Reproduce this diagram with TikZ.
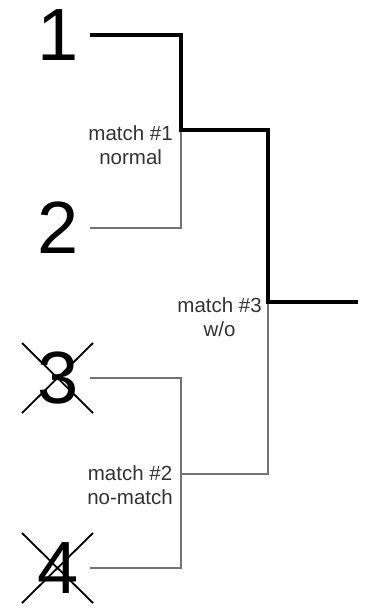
\documentclass[tikz,border=0pt]{standalone}
\usepackage{fontspec}
\setmainfont{Liberation Sans}
\usetikzlibrary{calc}

\begin{document}
\begin{tikzpicture}[
  x=1pt, y=1pt,
  seed/.style={inner sep=0pt, minimum width=64pt, font=\fontsize{74}{74}\selectfont},
  result/.style={anchor=north east, inner sep=0pt, align=center, text=black!80,
    font=\fontsize{20.5}{24}\selectfont},
  win/.style={line width=4.2pt, black},
  lose/.style={line width=1.3pt, black!55},
  strike/.style={line width=1.8pt, black},
]
\useasboundingbox (0,0) rectangle (367,-611);

\node[seed] (n1) at (58,-35) {1};
\node[seed] (n2) at (58,-228) {2};
\node[seed] (n3) at (58,-378) {3};
\node[seed] (n4) at (58,-568) {4};

\coordinate (m1) at (181,-130);
\coordinate (m2) at (181,-474);
\coordinate (m3) at (268,-302);
\coordinate (champ) at (358,-302);

\draw[lose] (n2.east) -| (m1);
\draw[lose] (n3.east) -| (m2);
\draw[lose] (n4.east) -| (m2);
\draw[lose] (m2) -| (m3);
\draw[win] (n1.east) -| (m1) -| (m3) -- (champ);

\foreach \n in {n3,n4} {
  \draw[strike] ($(\n)+(-36,35)$) -- ($(\n)+(35,-35)$);
  \draw[strike] ($(\n)+(35,35)$) -- ($(\n)+(-36,-35)$);
}

\node[result] (r1) at ([xshift=-8pt, yshift=5pt]m1) {match \#1\\normal};
\node[result] (r3) at ([xshift=-6pt, yshift=5pt]m3) {match \#3\\w/o};
\node[result] (r2) at ([xshift=-8pt, yshift=9pt]m2) {match \#2\\no-match};
\end{tikzpicture}
\end{document}
